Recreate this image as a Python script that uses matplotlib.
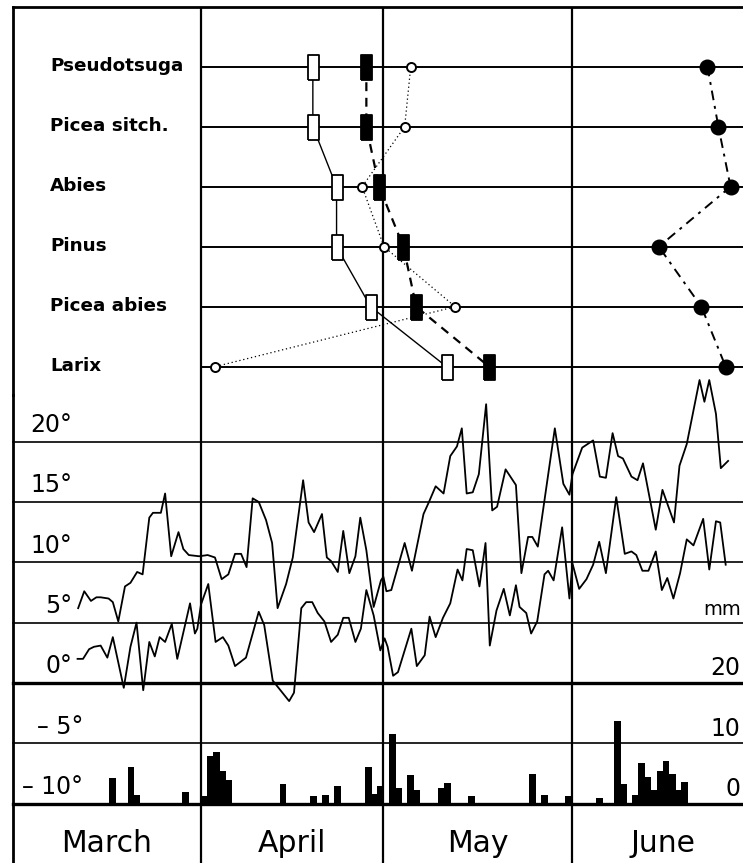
import matplotlib.pyplot as plt

plt.rcParams['font.family'] = ['DejaVu Sans']

# day axis: 0 = start of 1 March, one unit per day
species = ['Pseudotsuga', 'Picea sitch.', 'Abies', 'Pinus', 'Picea abies', 'Larix']
open_rect = [49.4, 49.4, 53.3, 53.3, 58.9, 71.4]
filled_rect = [58.2, 58.2, 60.3, 64.3, 66.4, 78.4]
open_circ = [65.5, 64.5, 57.5, 61.1, 72.8, 33.3]
filled_circ = [114.3, 116.1, 118.1, 106.3, 113.3, 117.3]

# daily maximum temperature (deg C)
tmax_day = [10.8, 11.8, 12.9, 13.8, 14.5, 15.8, 16.5, 17.4, 18.5, 19.4, 20.5, 21.4,
            22.5, 23.1, 24.4, 25.1, 26.1, 27.3, 28.1, 29.0, 30.7, 32.1, 33.3, 34.4,
            35.5, 36.6, 37.6, 38.5, 39.5, 40.5, 41.7, 42.7, 43.6, 45.0, 46.1, 47.8,
            48.7, 49.6, 50.9, 51.7, 52.4, 53.5, 54.4, 55.4, 56.4, 57.2, 58.2, 59.4,
            60.6, 61.0, 61.5, 62.3, 64.5, 65.7, 67.6, 68.5, 69.6, 70.9, 72.0, 73.1,
            73.9, 74.7, 75.7, 76.7, 77.9, 78.9, 79.7, 81.1, 82.8, 83.7, 84.8, 85.5,
            86.4, 89.2, 90.6, 91.6, 92.1, 93.7, 95.5, 96.6, 97.6, 98.7, 99.6, 100.4,
            101.8, 102.8, 103.7, 105.8, 106.9, 108.8, 109.7, 110.9, 113.0, 113.8,
            114.6, 115.7, 116.5, 117.7]
tmax = [6.2, 7.6, 6.8, 7.1, 7.1, 7.0, 6.7, 5.1, 8.0, 8.3, 9.2, 9.0,
        13.7, 14.1, 14.1, 15.7, 10.5, 12.5, 11.1, 10.6, 10.5, 10.6, 10.4, 8.6,
        9.0, 10.7, 10.7, 9.6, 15.3, 15.0, 13.5, 11.6, 6.2, 8.2, 10.4, 16.8,
        13.3, 12.5, 14.0, 10.4, 10.1, 9.2, 12.6, 9.1, 10.5, 13.7, 11.0, 6.3,
        8.5, 8.8, 7.6, 7.7, 11.6, 9.3, 14.0, 15.0, 16.3, 15.7, 18.8, 19.6,
        21.1, 15.7, 15.8, 17.3, 23.1, 14.3, 14.6, 17.7, 16.4, 9.1, 12.1, 12.1,
        11.3, 21.1, 16.5, 15.6, 17.3, 19.5, 20.1, 17.1, 17.0, 20.7, 18.8, 18.6,
        17.1, 16.8, 18.2, 12.7, 16.0, 13.3, 18.0, 19.8, 25.1, 23.3,
        25.1, 22.3, 17.8, 18.4]

# daily minimum temperature (deg C)
tmin_day = [10.7, 11.6, 12.6, 13.4, 14.5, 15.6, 16.5, 18.3, 19.4, 20.4, 21.5, 22.5,
            23.4, 24.2, 25.1, 26.2, 27.1, 29.2, 30.0, 30.4, 31.0, 32.2, 33.4, 34.6,
            35.5, 36.6, 38.4, 40.5, 41.4, 42.8, 45.5, 46.3, 47.5, 48.3, 49.3, 50.2,
            51.3, 52.4, 53.5, 54.4, 55.3, 56.4, 57.3, 58.2, 59.4, 60.5, 61.2, 61.7,
            62.6, 63.4, 65.6, 66.5, 67.8, 68.6, 69.6, 70.8, 72.0, 73.2, 74.0, 74.7,
            75.7, 76.8, 77.8, 78.5, 79.6, 80.8, 81.8, 82.8, 83.4, 84.5, 85.3, 86.3,
            87.5, 88.1, 89.0, 90.4, 91.6, 92.1, 93.2, 94.4, 95.5, 96.5, 97.6, 99.3,
            100.7, 101.8, 102.6, 103.6, 104.6, 105.8, 106.8, 107.7, 108.7, 109.8,
            110.9, 112.0, 113.6, 114.6, 115.7, 116.4, 117.3]
tmin = [2.0, 2.0, 2.8, 3.0, 3.1, 2.1, 3.8, -0.4, 3.0, 5.0, -0.6, 3.4,
        2.2, 3.8, 3.4, 4.9, 2.0, 6.6, 4.1, 4.5, 6.5, 8.2, 3.4, 3.8,
        3.1, 1.4, 2.1, 5.9, 4.8, 0.2, -1.5, -0.8, 6.2, 6.7, 6.7, 5.8,
        5.1, 3.4, 4.0, 5.4, 5.4, 3.4, 4.5, 7.7, 5.6, 2.7, 3.7, 3.0,
        0.6, 0.9, 4.5, 1.4, 2.3, 5.5, 3.8, 5.4, 6.6, 9.4, 8.5, 11.1,
        11.0, 8.0, 11.6, 3.1, 6.0, 7.8, 5.6, 8.1, 6.3, 5.8, 4.1, 5.1,
        9.0, 9.3, 8.5, 12.9, 7.0, 9.9, 7.8, 8.6, 9.8, 11.7, 9.1, 15.4,
        10.7, 10.9, 10.6, 9.3, 9.3, 10.9, 7.7, 8.7, 7.0, 9.1,
        11.9, 11.4, 13.6, 9.4, 13.4, 13.3, 9.8]

# daily precipitation (mm), day index counted from 1 March = 0
rain_day = [16, 19, 20, 28, 31, 32, 33, 34, 35, 44, 49, 51, 53, 58, 59, 60,
            62, 63, 65, 66, 70, 71, 75, 85, 87, 91, 96, 99, 100, 102, 103, 104,
            105, 106, 107, 108, 109, 110]
rain_mm = [4.2, 6.0, 1.5, 2.0, 1.2, 7.9, 8.5, 5.5, 3.9, 3.2, 1.2, 1.5, 3.0, 6.1, 1.6, 3.0,
           11.6, 2.6, 4.8, 2.2, 2.6, 3.5, 1.2, 4.9, 1.5, 1.2, 0.9, 13.7, 3.3, 1.5, 6.8, 4.4,
           2.2, 5.5, 7.0, 4.9, 2.2, 3.6]

months = ['March', 'April', 'May', 'June']
month_start = [0, 31, 61, 92]
month_mid = [15.5, 46, 76.5, 107]
temp_ticks = [20, 15, 10, 5, 0, -5, -10]
temp_labels = ['20°', '15°', '10°', '5°', '0°', '– 5°', '– 10°']
rain_ticks = [0, 10, 20]

W, H = 743, 863
X0 = 12.5            # left frame, px
PX_DAY = 6.08
PX_DEG = 12.07
Y_ZERO = 683         # 0 deg line, px
XMAX = (W - X0) / PX_DAY

fig = plt.figure(figsize=(W / 100, H / 100), dpi=100)


def box(top, bottom):
    return [X0 / W, 1 - bottom / H, (W - X0) / W, (bottom - top) / H]


y_split = 395
y_base = Y_ZERO + 10 * PX_DEG

ax_sp = fig.add_axes(box(6.7, y_split))
ax_t = fig.add_axes(box(y_split, y_base))
ax_m = fig.add_axes(box(y_base, H))

for ax in (ax_sp, ax_t, ax_m):
    ax.set_xlim(0, XMAX)
    ax.set_xticks([])
    ax.set_yticks([])
    ax.patch.set_visible(False)
    for s in ('top', 'right', 'bottom'):
        ax.spines[s].set_visible(False)
    ax.spines['left'].set_linewidth(2.0)
    for m in month_start[1:]:
        ax.axvline(m, color='black', lw=1.6, zorder=1)

# --- species panel ---
ax_sp.spines['top'].set_visible(True)
ax_sp.spines['top'].set_linewidth(2.0)
rows = list(range(len(species)))
ax_sp.set_ylim((y_split - 6.7) / 60 - 1, -1)
ax_sp.hlines(rows, month_start[1], XMAX, color='black', lw=1.4, zorder=1)
for r, name in zip(rows, species):
    ax_sp.text(6.2, r + 0.07, name, fontsize=13.2, fontweight='bold',
               va='baseline', ha='left')

rect = [(-0.22, -0.5), (0.22, -0.5), (0.22, 0.5), (-0.22, 0.5), (-0.22, -0.5)]
ax_sp.plot(open_rect, rows, color='black', lw=1.0, marker=rect, ms=18,
           mfc='white', mec='black', mew=1.3, zorder=3)
ax_sp.plot(filled_rect, rows, color='black', lw=1.6, dashes=(4, 3), marker=rect,
           ms=18, mfc='black', mec='black', mew=1.3, zorder=3)
ax_sp.plot(open_circ, rows, color='black', lw=0.9, dashes=(1, 2.2), marker='o',
           ms=6.5, mfc='white', mec='black', mew=1.4, zorder=4)
ax_sp.plot(filled_circ, rows, color='black', lw=1.4, dashes=(5, 3, 1.5, 3),
           marker='o', ms=10.5, mfc='black', mec='black', zorder=3)

# --- temperature panel ---
t_top = (Y_ZERO - y_split) / PX_DEG
ax_t.set_ylim(-10, t_top)
for v in temp_ticks:
    lw = 2.4 if v in (0, -10) else 1.2
    ax_t.axhline(v, color='black', lw=lw, zorder=1, clip_on=False)
for v, lab in zip(temp_ticks, temp_labels):
    x = 11.6 if v < 0 else 9.8
    ax_t.text(x, v + 0.8, lab, fontsize=17, ha='right', va='baseline')

ax_t.plot(tmax_day, tmax, color='black', lw=1.3, zorder=3, clip_on=False)
ax_t.plot(tmin_day, tmin, color='black', lw=1.3, zorder=3, clip_on=False)

# precipitation on a twin scale: 0 mm at -10 deg, 20 mm at 0 deg
ax_p = ax_t.twinx()
ax_p.set_ylim(0, 2 * (t_top + 10))
ax_p.set_xlim(0, XMAX)
ax_p.set_yticks([])
for s in ax_p.spines.values():
    s.set_visible(False)
ax_p.bar([d + 0.5 for d in rain_day], rain_mm, width=1.1, color='black', zorder=2)
for v in rain_ticks:
    ax_p.text(XMAX - 0.4, v + 1.3, str(v), fontsize=17, ha='right', va='baseline')
ax_p.text(XMAX - 0.4, 31.3, 'mm', fontsize=14, ha='right', va='baseline')

# --- month names ---
ax_m.set_ylim(0, 1)
for name, mid in zip(months, month_mid):
    ax_m.text(mid, 0.19, name, fontsize=21.5, ha='center', va='baseline')

fig.savefig('out.png', dpi=100)
